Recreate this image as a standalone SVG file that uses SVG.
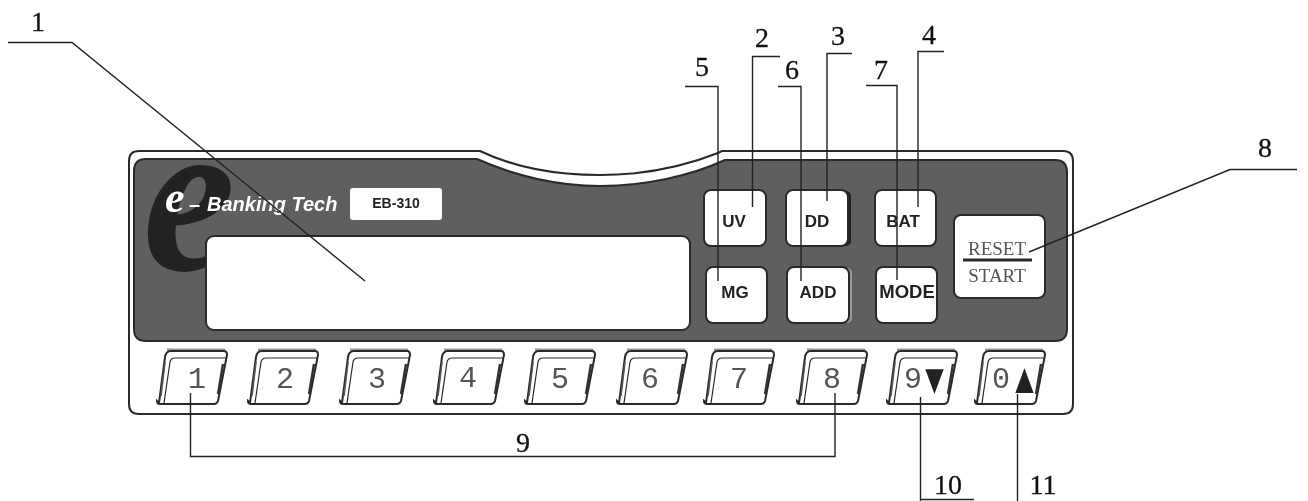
<svg xmlns="http://www.w3.org/2000/svg" width="1308" height="501" viewBox="0 0 1308 501">
<style>
.lab{font-family:"Liberation Serif",serif;font-size:28px;fill:#111;stroke:#111;stroke-width:.3;text-anchor:middle}
.btn{fill:#fff;stroke:#2a2a2a;stroke-width:2}
.bt{font-family:"Liberation Sans",Arial,sans-serif;font-size:17px;font-weight:bold;fill:#222;text-anchor:middle}
.kt{font-family:"Liberation Mono",monospace;font-size:30px;fill:#555;text-anchor:middle}
.ld{fill:none;stroke:#222;stroke-width:1.4}
.rs{font-family:"Liberation Serif",serif;font-size:19px;fill:#555;text-anchor:middle}
</style>
<defs>
<filter id="soft" x="-5%" y="-5%" width="110%" height="110%"><feGaussianBlur stdDeviation="0.4"/></filter>
<g id="key">
<path d="M10,-54H68" fill="none" stroke="#999" stroke-width="3"/>
<path d="M2,-1L8,-47Q9,-53 14,-53H67Q70,-53 70,-49L61,-3Q60,0 57,0H3Q0,0 0,-3Z" fill="#fff" stroke="#2a2a2a" stroke-width="2"/>
<path d="M7,-1L13,-42Q14,-46 18,-46H69" fill="none" stroke="#2a2a2a" stroke-width="1.2"/>
<path d="M66,-40L61,-10" fill="none" stroke="#333" stroke-width="2.4"/>
<path d="M4,-8L8,-42" fill="none" stroke="#555" stroke-width="1.6"/>
</g>
</defs>
<rect width="1308" height="501" fill="#fff"/>
<g id="device" filter="url(#soft)">
<g id="case">
<path d="M139,151H480C520,170 560,175 600,175C640,175 680,168 718,153L722,151H1063Q1073,151 1073,161V404Q1073,414 1063,414H139Q129,414 129,404V161Q129,151 139,151Z" fill="#fff" stroke="#2a2a2a" stroke-width="2"/>
<path d="M146,159H477C520,178 560,186 600,186C645,186 690,176 725,160H1055Q1067,160 1067,172V329Q1067,341 1055,341H146Q134,341 134,329V171Q134,159 146,159Z" fill="#5e5e5e" stroke="#2a2a2a" stroke-width="2"/>
</g>
<g id="logo">
<text transform="translate(143 270) scale(1.26 1.35)" font-family="Liberation Serif,serif" font-style="italic" font-weight="bold" font-size="165" fill="#222">e</text>
<text x="165" y="212" font-family="Liberation Serif,serif" font-style="italic" font-weight="bold" font-size="44" fill="#fff">e</text>
<text x="189" y="211" font-family="Liberation Sans,sans-serif" font-style="italic" font-weight="bold" font-size="20" fill="#fff">–<tspan x="207">Banking Tech</tspan></text>
</g>
<g id="model">
<rect x="350" y="188" width="92" height="32" rx="3" fill="#fff"/>
<text x="396" y="208" font-family="Liberation Sans,sans-serif" font-weight="bold" font-size="14" fill="#222" text-anchor="middle">EB-310</text>
</g>
<g id="display"><rect x="206" y="236" width="484" height="94" rx="8" fill="#fff" stroke="#2a2a2a" stroke-width="2"/></g>
<g id="btn-uv"><rect class="btn" x="704" y="190" width="62" height="56" rx="7"/><text class="bt" x="734" y="227">UV</text></g>
<g id="btn-dd"><rect x="790" y="191" width="61" height="55" rx="5" fill="#222"/><rect class="btn" x="786" y="190" width="62" height="56" rx="7"/><text class="bt" x="817" y="227">DD</text></g>
<g id="btn-bat"><rect class="btn" x="875" y="190" width="61" height="56" rx="7"/><text class="bt" x="903" y="227">BAT</text></g>
<g id="btn-mg"><rect class="btn" x="706" y="267" width="61" height="56" rx="7"/><text class="bt" x="735" y="298">MG</text></g>
<g id="btn-add"><rect x="790" y="268" width="62" height="55" rx="5" fill="#999"/><rect class="btn" x="787" y="267" width="62" height="56" rx="7"/><text class="bt" x="818" y="298">ADD</text></g>
<g id="btn-mode"><rect class="btn" x="876" y="267" width="61" height="56" rx="7"/><text class="bt" x="907" y="298" style="font-size:18.500px">MODE</text></g>
<g id="btn-reset">
<rect x="954" y="215" width="91" height="83" rx="7" fill="#fff" stroke="#2a2a2a" stroke-width="2"/>
<text class="rs" x="997" y="255">RESET</text>
<rect x="963" y="258.500" width="69" height="3" fill="#2a2a2a"/>
<text class="rs" x="997" y="282">START</text>
</g>
<g id="key-1"><use href="#key" x="157" y="404"/><text class="kt" x="197" y="388">1</text></g>
<g id="key-2"><use href="#key" x="248" y="404"/><text class="kt" x="285" y="388">2</text></g>
<g id="key-3"><use href="#key" x="340" y="404"/><text class="kt" x="377" y="388">3</text></g>
<g id="key-4"><use href="#key" x="434" y="404"/><text class="kt" x="468" y="387">4</text></g>
<g id="key-5"><use href="#key" x="525" y="404"/><text class="kt" x="560" y="388">5</text></g>
<g id="key-6"><use href="#key" x="617" y="404"/><text class="kt" x="650" y="388">6</text></g>
<g id="key-7"><use href="#key" x="704" y="404"/><text class="kt" x="739" y="388">7</text></g>
<g id="key-8"><use href="#key" x="797" y="404"/><text class="kt" x="832" y="388">8</text></g>
<g id="key-9"><use href="#key" x="887" y="404"/><text class="kt" x="913" y="388">9</text><text transform="translate(934.500 390) scale(1 1.35)" font-family="DejaVu Sans,sans-serif" font-size="24" fill="#222" text-anchor="middle">▼</text></g>
<g id="key-0"><use href="#key" x="975" y="404"/><text class="kt" x="1001" y="388">0</text><text transform="translate(1024.500 389) scale(1 1.35)" font-family="DejaVu Sans,sans-serif" font-size="24" fill="#222" text-anchor="middle">▲</text></g>
</g>
<g id="connectors">
<path class="ld" d="M8,42.500H72L365,281"/>
<path class="ld" d="M780,56.500H752.500V207"/>
<path class="ld" d="M852,53.500H827V201"/>
<path class="ld" d="M944,51.500H918V207"/>
<path class="ld" d="M685,86.500H718V281"/>
<path class="ld" d="M778,86.500H801V281"/>
<path class="ld" d="M866,85.500H897V280"/>
<path class="ld" d="M1029,252L1230,169.500H1297"/>
<path class="ld" d="M190.500,393V456.500H835V393"/>
<path class="ld" d="M920.500,397V501M920.500,499.500H974"/>
<path class="ld" d="M1017.500,394V501"/>
</g>
<g id="labels">
<text class="lab" x="38" y="31">1</text>
<text class="lab" x="762" y="47">2</text>
<text class="lab" x="838" y="45">3</text>
<text class="lab" x="929" y="44">4</text>
<text class="lab" x="702" y="76">5</text>
<text class="lab" x="792" y="79">6</text>
<text class="lab" x="881" y="79">7</text>
<text class="lab" x="1265" y="157">8</text>
<text class="lab" x="523" y="452">9</text>
<text class="lab" x="948" y="494">10</text>
<text class="lab" x="1043" y="494">11</text>
</g>
</svg>
